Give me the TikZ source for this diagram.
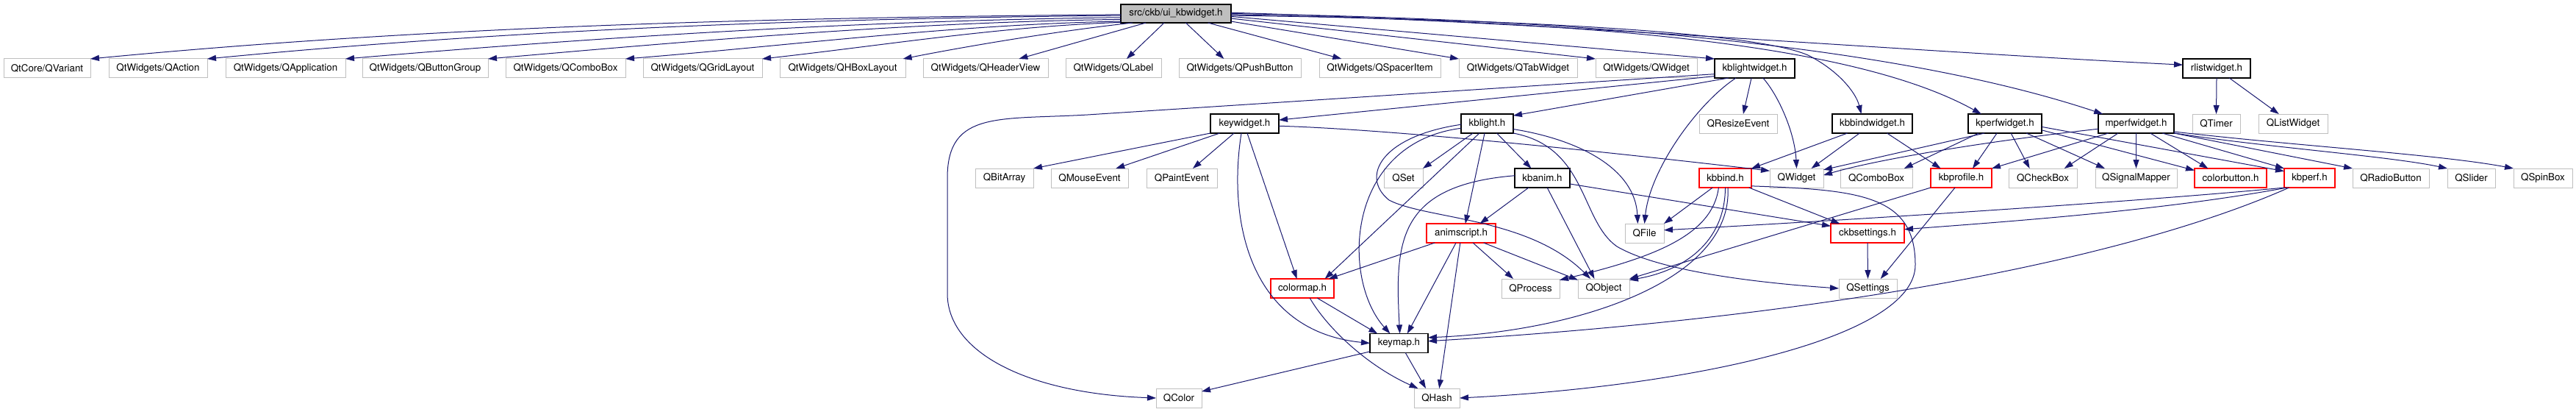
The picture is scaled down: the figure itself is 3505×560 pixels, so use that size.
\documentclass[tikz,border=0pt]{standalone}
\usepackage{fontspec}
\setmainfont{TeX Gyre Heros}
\usetikzlibrary{arrows.meta}
\definecolor{edgec}{HTML}{191970}
\definecolor{extc}{HTML}{BFBFBF}
\tikzset{
 box/.style={rectangle, inner sep=0pt, outer sep=0pt, minimum height=19.5pt, font=\fontsize{10}{12}\selectfont, fill=white, line width=0.75pt},
 ext/.style={box, draw=extc},
 own/.style={box, draw=black, line width=1pt},
 inc/.style={box, draw=red, line width=1pt},
 rootbox/.style={box, draw=black, fill=extc, line width=1pt, minimum height=18.75pt},
 e/.style={draw=edgec, line width=0.75pt, -{Triangle[length=9pt,width=6pt]}}
}
\newcommand\nd[6]{\node[#2,minimum width={(#4-#3)*0.75pt}] (#1) at ({(#3+#4)/2},#5) {#6};}
\begin{document}
\begin{tikzpicture}[x=0.75pt,y=-0.75pt]
\useasboundingbox (0,0) rectangle (3505,560);
\fill[white] (0,0) rectangle (3505,560);
% nodes
\nd{root}{rootbox}{1525}{1675}{18.5}{src/ckb/ui\_kbwidget.h}
\nd{qvariant}{ext}{5}{123}{93}{QtCore/QVariant}
\nd{qaction}{ext}{148}{282}{93}{QtWidgets/QAction}
\nd{qapplication}{ext}{307}{470}{93}{QtWidgets/QApplication}
\nd{qbuttongroup}{ext}{493}{664}{93}{QtWidgets/QButtonGroup}
\nd{qcomboboxw}{ext}{688}{851}{93}{QtWidgets/QComboBox}
\nd{qgridlayout}{ext}{875}{1037}{93}{QtWidgets/QGridLayout}
\nd{qhboxlayout}{ext}{1061}{1232}{93}{QtWidgets/QHBoxLayout}
\nd{qheaderview}{ext}{1256}{1426}{93}{QtWidgets/QHeaderView}
\nd{qlabel}{ext}{1450}{1580}{93}{QtWidgets/QLabel}
\nd{qpushbutton}{ext}{1604}{1770}{93}{QtWidgets/QPushButton}
\nd{qspaceritem}{ext}{1795}{1960}{93}{QtWidgets/QSpacerItem}
\nd{qtabwidget}{ext}{1985}{2146}{93}{QtWidgets/QTabWidget}
\nd{qwidgetw}{ext}{2171}{2309}{93}{QtWidgets/QWidget}
\nd{kblightwidget}{own}{2333}{2442}{93}{kblightwidget.h}
\nd{rlistwidget}{own}{2970}{3062}{93}{rlistwidget.h}
\nd{keywidget}{own}{1647}{1740}{168}{keywidget.h}
\nd{kblight}{own}{1988}{2059}{168}{kblight.h}
\nd{qresizeevent}{ext}{2312}{2418}{168}{QResizeEvent}
\nd{kbbindwidget}{own}{2493}{2602}{168}{kbbindwidget.h}
\nd{kperfwidget}{own}{2678}{2778}{168}{kperfwidget.h}
\nd{mperfwidget}{own}{2855}{2958}{168}{mperfwidget.h}
\nd{qtimer}{ext}{2983}{3048}{168}{QTimer}
\nd{qlistwidget}{ext}{3073}{3167}{168}{QListWidget}
\nd{qbitarray}{ext}{1327}{1406}{242}{QBitArray}
\nd{qmouseevent}{ext}{1430}{1535}{242}{QMouseEvent}
\nd{qpaintevent}{ext}{1560}{1656}{242}{QPaintEvent}
\nd{qset}{ext}{1883}{1936}{242}{QSet}
\nd{kbanim}{own}{2061}{2136}{242}{kbanim.h}
\nd{kbbind}{inc}{2312}{2383}{242}{kbbind.h}
\nd{qwidget}{ext}{2408}{2481}{242}{QWidget}
\nd{qcombobox}{ext}{2504}{2602}{242}{QComboBox}
\nd{kbprofile}{inc}{2627}{2710}{242}{kbprofile.h}
\nd{qcheckbox}{ext}{2733}{2826}{242}{QCheckBox}
\nd{qsignalmapper}{ext}{2851}{2962}{242}{QSignalMapper}
\nd{colorbutton}{inc}{2986}{3084}{242}{colorbutton.h}
\nd{kbperf}{inc}{3108}{3177}{242}{kbperf.h}
\nd{qradiobutton}{ext}{3201}{3305}{242}{QRadioButton}
\nd{qslider}{ext}{3330}{3395}{242}{QSlider}
\nd{qspinbox}{ext}{3420}{3500}{242}{QSpinBox}
\nd{animscript}{inc}{1941}{2035}{317}{animscript.h}
\nd{qfile}{ext}{2211}{2264}{317}{QFile}
\nd{ckbsettings}{inc}{2491}{2591}{317}{ckbsettings.h}
\nd{colormap}{inc}{1729}{1815}{392}{colormap.h}
\nd{qprocess}{ext}{2043}{2122}{392}{QProcess}
\nd{qobject}{ext}{2147}{2217}{392}{QObject}
\nd{qsettings}{ext}{2502}{2581}{392}{QSettings}
\nd{keymap}{own}{1864}{1943}{466.5}{keymap.h}
\nd{qcolor}{ext}{1573}{1635}{541}{QColor}
\nd{qhash}{ext}{1924}{1986}{541}{QHash}
% root edges
\draw[e] (root.181) .. controls (1055,24) and (593,35) .. (qvariant.north east);
\draw[e] (root.182) .. controls (1110,25) and (697,40) .. (qaction.north east);
\draw[e] (root.184) .. controls (1175,28) and (820,50) .. (qapplication.north east);
\draw[e] (root.186) .. controls (1240,30) and (950,55) .. (qbuttongroup.north east);
\draw[e] (root.188) .. controls (1300,33) and (1075,62) .. (qcomboboxw.north east);
\draw[e] (root.189) .. controls (1360,36) and (1200,62) .. (qgridlayout.north east);
\draw[e] (root.192) .. controls (1440,42) and (1320,62) .. (qhboxlayout.9);
\draw[e] (root.197) -- (qheaderview.16);
\draw[e] (root.218) -- (qlabel.36);
\draw[e] (root.317) -- (qpushbutton.149);
\draw[e] (root.344) -- (qspaceritem.166);
\draw[e] (root.352) -- (qtabwidget.north west);
\draw[e] (root.355) -- (qwidgetw.north west);
\draw[e] (root.357) -- (kblightwidget.north west);
\draw[e] (root.358) .. controls (2000,25) and (2380,40) .. (2460,75) .. controls (2500,95) and (2525,125) .. (kbbindwidget.139);
\draw[e] (root.359) .. controls (2050,28) and (2496,44) .. (kperfwidget.158);
\draw[e] (root.0) .. controls (2100,25) and (2560,55) .. (mperfwidget.164);
\draw[e] (root.1) .. controls (2100,30) and (2600,70) .. (rlistwidget.174);
% kblightwidget
\draw[e] (kblightwidget.191) -- (keywidget.6);
\draw[e] (kblightwidget.200) -- (kblight.17);
\draw[e] (kblightwidget.188) .. controls (2050,119) and (1760,138) .. (1480,156) .. controls (1360,163) and (1290,150) .. (1289,240) -- (1289,400) .. controls (1290,480) and (1400,535) .. (qcolor.west);
\draw[e] (kblightwidget.251) -- (qresizeevent.62);
\draw[e] (kblightwidget.207) .. controls (2310,140) and (2245,230) .. (qfile.north);
\draw[e] (kblightwidget.311) .. controls (2420,130) and (2442,180) .. (qwidget.north);
% keywidget
\draw[e] (keywidget.south west) -- (qbitarray.north east);
\draw[e] (keywidget.201) -- (qmouseevent.20);
\draw[e] (keywidget.222) -- (qpaintevent.41);
\draw[e] (keywidget.285) -- (colormap.120);
\draw[e] (keywidget.251) .. controls (1670,300) and (1700,450) .. (keymap.west);
\draw[e] (keywidget.356) .. controls (1900,176) and (2200,208) .. (qwidget.165);
% kblight
\draw[e] (kblight.214) -- (qset.north east);
\draw[e] (kblight.315) -- (kbanim.139);
\draw[e] (kblight.255) -- (animscript.66);
\draw[e] (kblight.231) -- (colormap.23);
\draw[e] (kblight.190) .. controls (1830,195) and (1825,380) .. (keymap.133);
\draw[e] (kblight.182) .. controls (1880,185) and (1850,240) .. (1890,272) .. controls (1940,298) and (2080,295) .. (qobject.144);
\draw[e] (kblight.348) .. controls (2150,190) and (2225,230) .. (qfile.125);
\draw[e] (kblight.south east) .. controls (2160,200) and (2150,300) .. (2200,335) .. controls (2260,370) and (2400,385) .. (qsettings.west);
% kbanim
\draw[e] (kbanim.215) -- (animscript.27);
\draw[e] (kbanim.297) -- (qobject.134);
\draw[e] (kbanim.348) -- (ckbsettings.169);
\draw[e] (kbanim.175) .. controls (1900,252) and (1898,330) .. (keymap.85);
% animscript
\draw[e] (animscript.200) -- (colormap.20);
\draw[e] (animscript.242) -- (keymap.49);
\draw[e] (animscript.265) -- (qhash.76);
\draw[e] (animscript.321) -- (qprocess.151);
\draw[e] (animscript.337) -- (qobject.162);
% colormap
\draw[e] (colormap.327) -- (keymap.156);
\draw[e] (colormap.308) .. controls (1805,445) and (1860,497) .. (qhash.153);
% keymap
\draw[e] (keymap.196) -- (qcolor.16);
\draw[e] (keymap.304) -- (qhash.139);
% kbbindwidget
\draw[e] (kbbindwidget.201) -- (kbbind.north east);
\draw[e] (kbbindwidget.217) -- (qwidget.33);
\draw[e] (kbbindwidget.327) -- (kbprofile.155);
% kbbind
\draw[e] (kbbind.217) -- (qfile.north east);
\draw[e] (kbbind.235) .. controls (2330,320) and (2250,350) .. (qprocess.16);
\draw[e] (kbbind.270) .. controls (2347,330) and (2290,368) .. (qobject.18);
\draw[e] (kbbind.285) .. controls (2358,380) and (2150,450) .. (keymap.11);
\draw[e] (kbbind.338) -- (ckbsettings.161);
\draw[e] (kbbind.343) .. controls (2530,258) and (2606,265) .. (2606,360) .. controls (2606,460) and (2300,525) .. (qhash.east);
% kbprofile
\draw[e] (kbprofile.south west) -- (qobject.north east);
\draw[e] (kbprofile.237) -- (qsettings.37);
% ckbsettings
\draw[e] (ckbsettings.south) -- (qsettings.north);
% kbperf
\draw[e] (kbperf.201) .. controls (2900,275) and (2500,300) .. (qfile.9);
\draw[e] (kbperf.203) .. controls (2950,285) and (2750,300) .. (ckbsettings.6);
\draw[e] (kbperf.205) .. controls (2900,350) and (2500,430) .. (keymap.4);
% kperfwidget
\draw[e] (kperfwidget.205) -- (qwidget.17);
\draw[e] (kperfwidget.200) -- (qcombobox.19);
\draw[e] (kperfwidget.230) -- (kbprofile.40);
\draw[e] (kperfwidget.302) -- (qcheckbox.144);
\draw[e] (kperfwidget.336) -- (qsignalmapper.163);
\draw[e] (kperfwidget.350) -- (colorbutton.168);
\draw[e] (kperfwidget.355) -- (kbperf.165);
% mperfwidget
\draw[e] (mperfwidget.188) .. controls (2720,190) and (2560,215) .. (qwidget.6);
\draw[e] (mperfwidget.199) -- (kbprofile.north east);
\draw[e] (mperfwidget.208) -- (qcheckbox.24);
\draw[e] (mperfwidget.south) -- (qsignalmapper.north);
\draw[e] (mperfwidget.326) -- (colorbutton.157);
\draw[e] (mperfwidget.340) -- (kbperf.north west);
\draw[e] (mperfwidget.south east) -- (qradiobutton.north west);
\draw[e] (mperfwidget.346) .. controls (3080,200) and (3250,212) .. (qslider.north west);
\draw[e] (mperfwidget.348) .. controls (3120,198) and (3320,210) .. (qspinbox.north west);
% rlistwidget
\draw[e] (rlistwidget.south) -- (qtimer.north);
\draw[e] (rlistwidget.323) -- (qlistwidget.146);
\end{tikzpicture}
\end{document}
